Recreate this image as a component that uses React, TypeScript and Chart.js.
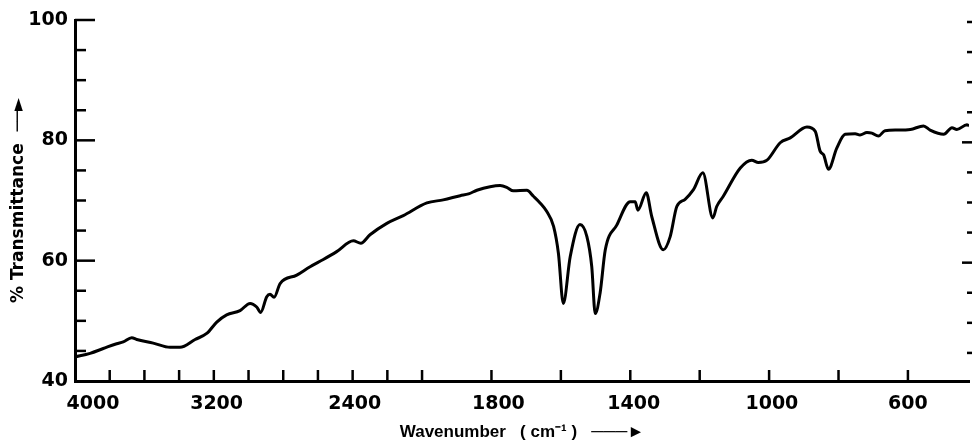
import React, { useEffect, useRef } from 'react';
import { Chart, registerables } from 'chart.js';

Chart.register(...registerables);

// Spectrum (wavenumber in cm-1, % transmittance)
const wavenumbers = [
  4000, 3913, 3837, 3760, 3722, 3673, 3644, 3549, 3452, 3395, 3308, 3241, 3183, 3126, 3049,
  2991, 2953, 2930, 2895, 2876, 2853, 2818, 2722, 2645, 2569, 2492, 2396, 2353, 2300, 2203,
  2108, 1986, 1939, 1890, 1866, 1842, 1804, 1775, 1756, 1737, 1698, 1679, 1660, 1641, 1621,
  1607, 1593, 1573, 1545, 1525, 1511, 1501, 1487, 1472, 1439, 1400, 1386, 1378, 1354, 1338,
  1305, 1285, 1266, 1242, 1218, 1191, 1162, 1151, 1132, 1083, 1050, 1031, 1006, 968, 939,
  891, 867, 853, 843, 829, 805, 781, 752, 738, 718, 704, 685, 666, 632, 593, 555, 536, 497,
  473, 459, 430, 424,
];
const transmittance = [
  44.0, 44.6, 45.4, 46.2, 46.5, 47.2, 46.9, 46.3, 45.6, 45.6, 46.9, 47.9, 49.8, 51.0, 51.7,
  52.9, 52.3, 51.4, 54.0, 54.4, 53.9, 56.2, 57.6, 59.0, 60.2, 61.5, 63.3, 62.9, 64.3, 66.2,
  67.5, 69.6, 70.1, 70.8, 71.1, 71.7, 72.3, 72.5, 72.2, 71.6, 71.7, 70.7, 69.6, 68.2, 65.7,
  61.2, 52.9, 60.7, 66.0, 64.0, 59.0, 51.2, 54.6, 61.8, 65.9, 69.8, 69.8, 68.4, 71.3, 67.3,
  61.8, 64.0, 69.0, 70.2, 71.8, 74.6, 67.1, 69.0, 70.7, 75.4, 76.7, 76.3, 76.7, 79.6, 80.4,
  82.2, 81.5, 78.2, 77.6, 75.2, 78.7, 81.0, 81.1, 80.9, 81.3, 81.2, 80.7, 81.6, 81.7, 81.8,
  82.4, 81.7, 81.0, 82.1, 81.8, 82.6, 82.4,
];

const xTickLabels = ['4000', '3200', '2400', '1800', '1400', '1000', '600'];
// where each label is printed (wavenumber position along the axis)
const xTickLabelAt = [3896, 3184, 2388, 1780, 1390, 992, 600];
const xMinorTicks = [
  3800, 3600, 3400, 3200, 3000, 2800, 2600, 2400, 2200, 2000,
  1800, 1600, 1400, 1200, 1000, 800, 600,
];
const yMinorTicks = [45, 50, 55, 60, 65, 70, 75, 80, 85, 90, 95, 100];
const WN_START = 4000;
const WN_END = 424;

// IR chart paper: 4000-2000 at one scale, below 2000 at twice the scale
const toU = (w: number) => (w >= 2000 ? 4000 - w : 2000 + 2 * (2000 - w));

const tickMarks = {
  id: 'tickMarks',
  afterDraw(chart: any) {
    const { ctx, chartArea, scales } = chart;
    const { left, right, bottom } = chartArea;
    const x = scales.x;
    const y = scales.y;
    ctx.save();
    ctx.strokeStyle = '#000';
    ctx.lineWidth = 2.5;
    const line = (x1: number, y1: number, x2: number, y2: number) => {
      ctx.beginPath();
      ctx.moveTo(x1, y1);
      ctx.lineTo(x2, y2);
      ctx.stroke();
    };
    for (const v of yMinorTicks) {
      const py = y.getPixelForValue(v);
      line(left, py, left + (v % 20 === 0 ? 20 : 11), py);
      line(right + 3, py + 2, right + 3 - (v === 60 || v === 80 ? 10 : 5), py + 2);
    }
    for (const w of xMinorTicks) {
      const px = x.getPixelForValue(toU(w));
      line(px, bottom, px, bottom - 11);
    }
    ctx.restore();
  },
};

export default function App() {
  const ref = useRef<HTMLCanvasElement | null>(null);
  useEffect(() => {
    if (!ref.current) return;
    const data = wavenumbers.map((w, i) => ({ x: toU(w), y: transmittance[i] }));
    const chart = new Chart(ref.current, {
      type: 'line',
      data: {
        datasets: [
          {
            data,
            borderColor: '#000',
            borderWidth: 3,
            pointRadius: 0,
            cubicInterpolationMode: 'monotone',
            fill: false,
          },
        ],
      },
      options: {
        animation: false,
        responsive: false,
        devicePixelRatio: 1,
        layout: { padding: { top: 20, right: 3, left: 0, bottom: 0 } },
        plugins: { legend: { display: false }, tooltip: { enabled: false } },
        scales: {
          x: {
            type: 'linear',
            min: toU(WN_START),
            max: toU(WN_END),
            grid: { display: false, drawTicks: false },
            border: { display: true, color: '#000', width: 3 },
            afterBuildTicks: (scale: any) => {
              scale.ticks = xTickLabelAt.map((w) => ({ value: toU(w) }));
            },
            afterFit: (scale: any) => {
              scale.height = 63;
            },
            ticks: {
              autoSkip: false,
              maxRotation: 0,
              minRotation: 0,
              padding: 12,
              color: '#000',
              font: { family: 'DejaVu Sans', weight: 'bold', size: 19 },
              callback: (_v: any, i: number) => xTickLabels[i],
            },
            title: {
              display: true,
              text: 'Wavenumber   ( cm\u207B\u00B9 )   \u2500\u2500\u2500\u25BA',
              color: '#000',
              font: { family: 'Liberation Sans', weight: 'bold', size: 17 },
              padding: { top: 0, bottom: 1 },
            },
          },
          y: {
            type: 'linear',
            min: 40,
            max: 100,
            grid: { display: false, drawTicks: false },
            border: { display: true, color: '#000', width: 3 },
            afterFit: (scale: any) => {
              scale.width = 75;
            },
            ticks: {
              stepSize: 20,
              padding: 7,
              color: '#000',
              font: { family: 'DejaVu Sans', weight: 'bold', size: 19 },
            },
            title: {
              display: true,
              text: '% Transmittance  \u2500\u2500\u25BA',
              color: '#000',
              font: { family: 'DejaVu Sans', weight: 'bold', size: 17 },
              padding: { top: 8, bottom: 0 },
            },
          },
        },
      },
      plugins: [tickMarks],
    } as any);
    return () => chart.destroy();
  }, []);
  return (
    <div style={{ position: 'fixed', left: 0, top: 0, width: 972, height: 444, background: '#fff' }}>
      <canvas ref={ref} width={972} height={444} />
    </div>
  );
}
